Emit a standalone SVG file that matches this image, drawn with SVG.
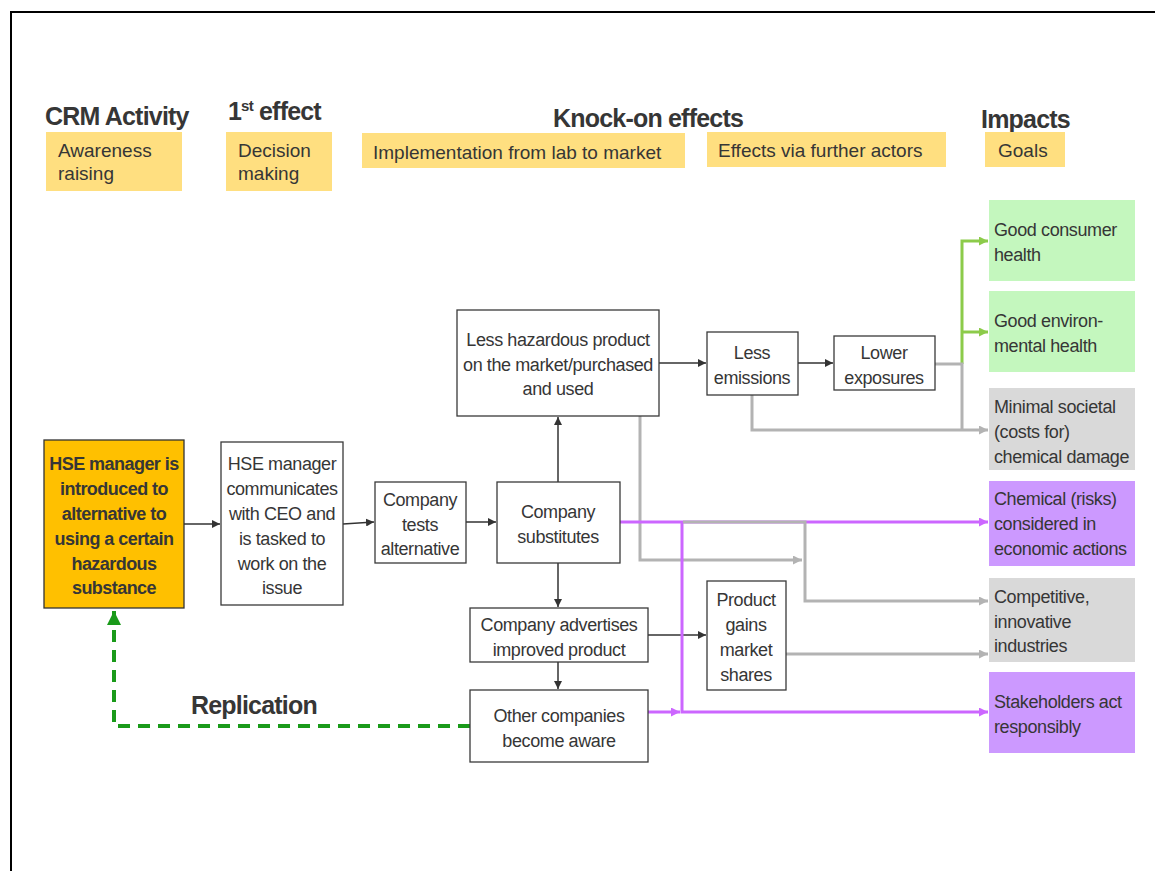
<svg xmlns="http://www.w3.org/2000/svg" width="1155" height="871" viewBox="0 0 1155 871">
<style>
text{font-family:"Liberation Sans",Arial,sans-serif;fill:#363636}
.h{font-size:25px;font-weight:bold;letter-spacing:-0.8px}
.t{font-size:18px;letter-spacing:-0.4px}
.l{font-size:19px}
.c{text-anchor:middle}
.b{font-weight:bold;letter-spacing:-0.55px}
.lbl{fill:#FFDF80}
.box{fill:#fff;stroke:#3a3a3a;stroke-width:1.3}
.grn{fill:#C4F7BE}
.gry{fill:#D9D9D9}
.pur{fill:#CC99FF}
.k{fill:none;stroke:#333;stroke-width:1.5}
.g{fill:none;stroke:#B3B3B3;stroke-width:3}
.p{fill:none;stroke:#CC66FF;stroke-width:3}
.gr{fill:none;stroke:#8CCB4A;stroke-width:3}
</style>
<defs>
<marker id="ak" viewBox="0 0 10 10" refX="10" refY="5" markerWidth="8" markerHeight="8" markerUnits="userSpaceOnUse" orient="auto"><path d="M0,0L10,5L0,10z" fill="#333"/></marker>
<marker id="ag" viewBox="0 0 10 10" refX="10" refY="5" markerWidth="9" markerHeight="9" markerUnits="userSpaceOnUse" orient="auto"><path d="M0,0L10,5L0,10z" fill="#B3B3B3"/></marker>
<marker id="ap" viewBox="0 0 10 10" refX="10" refY="5" markerWidth="9" markerHeight="9" markerUnits="userSpaceOnUse" orient="auto"><path d="M0,0L10,5L0,10z" fill="#CC66FF"/></marker>
<marker id="agr" viewBox="0 0 10 10" refX="10" refY="5" markerWidth="9" markerHeight="9" markerUnits="userSpaceOnUse" orient="auto"><path d="M0,0L10,5L0,10z" fill="#8CCB4A"/></marker>
<marker id="ad" viewBox="0 0 10 10" refX="10" refY="5" markerWidth="14" markerHeight="14" markerUnits="userSpaceOnUse" orient="auto"><path d="M0,0L10,5L0,10z" fill="#1A9A1A"/></marker>
</defs>
<rect width="1155" height="871" fill="#fff"/>
<path d="M11,871V12H1155" fill="none" stroke="#000" stroke-width="2"/>

<g id="headers">
<text class="h" x="45" y="125">CRM Activity</text>
<text class="h" x="228" y="120">1<tspan font-size="15" dy="-9">st</tspan><tspan dy="9"> effect</tspan></text>
<text class="h" x="553" y="127">Knock-on effects</text>
<text class="h" x="981" y="128">Impacts</text>
<rect class="lbl" x="46" y="132" width="136" height="59"/>
<text class="l" x="58" y="157">Awareness</text>
<text class="l" x="58" y="180">raising</text>
<rect class="lbl" x="226" y="132" width="106" height="59"/>
<text class="l" x="238" y="157">Decision</text>
<text class="l" x="238" y="180">making</text>
<rect class="lbl" x="362" y="133" width="323" height="35"/>
<text class="l" x="373" y="159">Implementation from lab to market</text>
<rect class="lbl" x="707" y="132" width="239" height="35"/>
<text class="l" x="718" y="157">Effects via further actors</text>
<rect class="lbl" x="985" y="132" width="80" height="35"/>
<text class="l" x="998" y="157">Goals</text>
</g>

<g id="connectors">
<path class="k" d="M184,524H220" marker-end="url(#ak)"/>
<path class="k" d="M343,524L374,522" marker-end="url(#ak)"/>
<path class="k" d="M466,522H496" marker-end="url(#ak)"/>
<path class="k" d="M558,482V417" marker-end="url(#ak)"/>
<path class="k" d="M659,363H706" marker-end="url(#ak)"/>
<path class="k" d="M798,363H833" marker-end="url(#ak)"/>
<path class="k" d="M558,563V607" marker-end="url(#ak)"/>
<path class="k" d="M558,662V689" marker-end="url(#ak)"/>
<path class="k" d="M648,635H706" marker-end="url(#ak)"/>
<path class="gr" d="M962,364V241H988" marker-end="url(#agr)"/>
<path class="gr" d="M962,332H988" marker-end="url(#agr)"/>
<path class="g" d="M935,364H962V430"/>
<path class="g" d="M752,395V430H988" marker-end="url(#ag)"/>
<path class="g" d="M640,416V560H802" marker-end="url(#ag)"/>
<path class="p" d="M620,522H988" marker-end="url(#ap)"/>
<path class="p" d="M682,522V712H988" marker-end="url(#ap)"/>
<path class="p" d="M645,712H680" marker-end="url(#ap)"/>
<path class="g" d="M683,522H805V601H988" marker-end="url(#ag)"/>
<path class="g" d="M786,654H988" marker-end="url(#ag)"/>
<path d="M470,726H114V611" fill="none" stroke="#1A9A1A" stroke-width="4" stroke-dasharray="12,8" marker-end="url(#ad)"/>
<text class="h" x="191" y="714">Replication</text>
</g>

<g id="n-hse">
<rect x="44" y="440" width="140" height="168" fill="#FFC000" stroke="#333" stroke-width="1.3"/>
<text class="t c b" x="114" y="470">HSE manager is</text>
<text class="t c b" x="114" y="495">introduced to</text>
<text class="t c b" x="114" y="520">alternative to</text>
<text class="t c b" x="114" y="545">using a certain</text>
<text class="t c b" x="114" y="570">hazardous</text>
<text class="t c b" x="114" y="594">substance</text>
</g>
<g id="n-comm">
<rect class="box" x="221" y="442" width="122" height="163"/>
<text class="t c" x="282" y="470">HSE manager</text>
<text class="t c" x="282" y="495">communicates</text>
<text class="t c" x="282" y="520">with CEO and</text>
<text class="t c" x="282" y="545">is tasked to</text>
<text class="t c" x="282" y="570">work on the</text>
<text class="t c" x="282" y="594">issue</text>
</g>
<g id="n-tests">
<rect class="box" x="375" y="482" width="91" height="81"/>
<text class="t c" x="420" y="506">Company</text>
<text class="t c" x="420" y="531">tests</text>
<text class="t c" x="420" y="555">alternative</text>
</g>
<g id="n-subs">
<rect class="box" x="497" y="482" width="123" height="81"/>
<text class="t c" x="558" y="518">Company</text>
<text class="t c" x="558" y="543">substitutes</text>
</g>
<g id="n-less-haz">
<rect class="box" x="457" y="310" width="202" height="106"/>
<text class="t c" x="558" y="346">Less hazardous product</text>
<text class="t c" x="558" y="371">on the market/purchased</text>
<text class="t c" x="558" y="395">and used</text>
</g>
<g id="n-emis">
<rect class="box" x="707" y="332" width="91" height="63"/>
<text class="t c" x="752" y="359">Less</text>
<text class="t c" x="752" y="384">emissions</text>
</g>
<g id="n-expo">
<rect class="box" x="834" y="336" width="101" height="54"/>
<text class="t c" x="884" y="359">Lower</text>
<text class="t c" x="884" y="384">exposures</text>
</g>
<g id="n-adv">
<rect class="box" x="470" y="608" width="178" height="54"/>
<text class="t c" x="559" y="631">Company advertises</text>
<text class="t c" x="559" y="656">improved product</text>
</g>
<g id="n-other">
<rect class="box" x="470" y="690" width="178" height="72"/>
<text class="t c" x="559" y="722">Other companies</text>
<text class="t c" x="559" y="747">become aware</text>
</g>
<g id="n-gains">
<rect class="box" x="707" y="581" width="79" height="109"/>
<text class="t c" x="746" y="606">Product</text>
<text class="t c" x="746" y="631">gains</text>
<text class="t c" x="746" y="656">market</text>
<text class="t c" x="746" y="681">shares</text>
</g>
<g id="g-consumer">
<rect class="grn" x="989" y="200" width="146" height="81"/>
<text class="t" x="994" y="236">Good consumer</text>
<text class="t" x="994" y="261">health</text>
</g>
<g id="g-env">
<rect class="grn" x="989" y="291" width="146" height="81"/>
<text class="t" x="994" y="327">Good environ-</text>
<text class="t" x="994" y="352">mental health</text>
</g>
<g id="g-societal">
<rect class="gry" x="989" y="388" width="146" height="82"/>
<text class="t" x="994" y="413">Minimal societal</text>
<text class="t" x="994" y="438">(costs for)</text>
<text class="t" x="994" y="463">chemical damage</text>
</g>
<g id="g-chem">
<rect class="pur" x="989" y="481" width="146" height="85"/>
<text class="t" x="994" y="505">Chemical (risks)</text>
<text class="t" x="994" y="530">considered in</text>
<text class="t" x="994" y="555">economic actions</text>
</g>
<g id="g-comp">
<rect class="gry" x="989" y="578" width="146" height="84"/>
<text class="t" x="994" y="603">Competitive,</text>
<text class="t" x="994" y="628">innovative</text>
<text class="t" x="994" y="652">industries</text>
</g>
<g id="g-stake">
<rect class="pur" x="989" y="672" width="146" height="81"/>
<text class="t" x="994" y="708">Stakeholders act</text>
<text class="t" x="994" y="733">responsibly</text>
</g>
</svg>
